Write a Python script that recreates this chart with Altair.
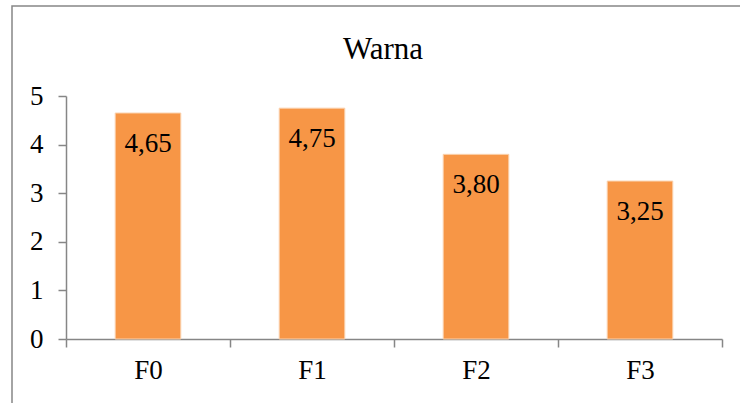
import altair as alt
import pandas as pd

# Colour scores per formulation
formulas = ["F0", "F1", "F2", "F3"]
scores = [4.65, 4.75, 3.80, 3.25]
score_labels = ["4,65", "4,75", "3,80", "3,25"]
y_ticks = [0, 1, 2, 3, 4, 5]
chart_title = "Warna"

df = pd.DataFrame({"formula": formulas, "score": scores, "label": score_labels})

FONT = "Liberation Serif"
GREY = "#868686"
ORANGE = "#F79646"

W, H = 656, 243

x_enc = alt.X(
    "formula:N",
    sort=formulas,
    title=None,
    scale=alt.Scale(paddingInner=0, paddingOuter=0),
    axis=alt.Axis(
        labelAngle=0,
        labelFont=FONT,
        labelFontSize=27,
        labelColor="black",
        labelPadding=10,
        domainColor=GREY,
        domainWidth=1.5,
        tickColor=GREY,
        tickWidth=1.5,
        tickSize=8,
        tickBand="extent",
        grid=False,
    ),
)
y_enc = alt.Y(
    "score:Q",
    title=None,
    scale=alt.Scale(domain=[0, 5], nice=False),
    axis=alt.Axis(
        values=y_ticks,
        grid=False,
        labelFont=FONT,
        labelFontSize=27,
        labelColor="black",
        labelPadding=15,
        domainColor=GREY,
        domainWidth=1.5,
        tickColor=GREY,
        tickWidth=1.5,
        tickSize=8,
    ),
)

# outer frame of the figure (one rectangle)
frame = alt.Chart(pd.DataFrame({"k": [0]})).mark_rect(
    fill=None, stroke=GREY, strokeWidth=1.5
).encode(
    x=alt.value(-54), x2=alt.value(W + 60),
    y=alt.value(-90), y2=alt.value(H + 100),
)

# chart heading, placed inside the frame
heading = alt.Chart(pd.DataFrame({"t": [chart_title]})).mark_text(
    font=FONT, fontSize=31, color="black", baseline="alphabetic", align="center"
).encode(
    x=alt.value(W / 2 - 11),
    y=alt.value(-37),
    text="t:N",
)

bars = alt.Chart(df).mark_bar(
    color=ORANGE, stroke="#FBD3B0", strokeWidth=1,
    width=alt.RelativeBandSize(0.4),
).encode(x=x_enc, y=y_enc)

labels = alt.Chart(df).mark_text(
    font=FONT, fontSize=27, color="black", baseline="alphabetic", dy=39
).encode(
    x=alt.X("formula:N", sort=formulas),
    y="score:Q",
    text="label:N",
)

chart = (
    alt.layer(frame, heading, bars, labels)
    .properties(
        width=W,
        height=H,
        autosize=alt.AutoSizeParams(type="none"),
        padding={"left": 66, "top": 96, "right": 18, "bottom": 64},
        background="white",
        view=alt.ViewBackground(stroke="transparent", strokeWidth=0),
    )
    .configure_view(strokeWidth=0, stroke="transparent")
)

chart.save("out.html", embed_options={"renderer": "svg", "actions": False})
